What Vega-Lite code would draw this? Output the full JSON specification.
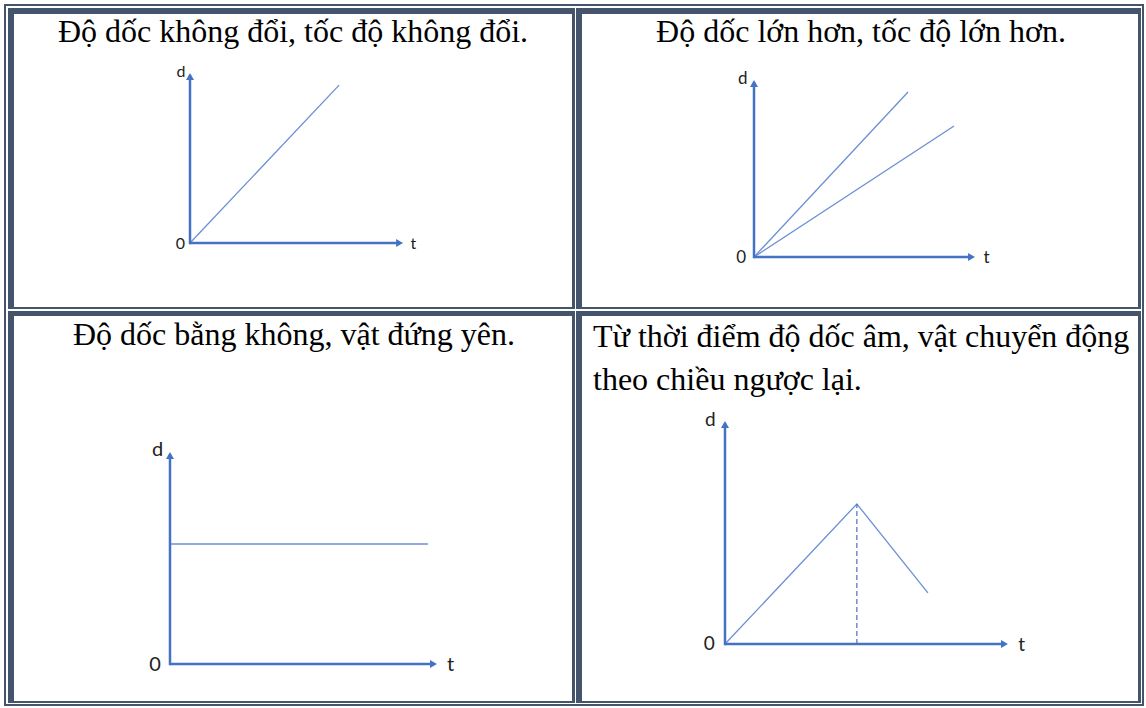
{
  "$schema": "https://vega.github.io/schema/vega-lite/v6.json",
  "background": "white",
  "padding": {"left": 4, "top": 4, "right": 2, "bottom": 2},
  "columns": 2,
  "spacing": 0,
  "bounds": "flush",
  "config": {"view": {"stroke": null}, "axis": {"disable": true}},
  "concat": [
    {
      "width": 571, "height": 305,
      "data": {"values": [{}]},
      "layer": [
        {
          "data": {"values": [{"t": 0, "d": 0, "s": "a"}, {"t": 7.0, "d": 9.29, "s": "a"}]},
          "mark": {"type": "line", "color": "#6A8FD4", "strokeWidth": 1.3},
          "encoding": {
            "x": {"field": "t", "type": "quantitative", "axis": null, "scale": {"domain": [-8.732, 18.075], "nice": false, "zero": false}},
            "y": {"field": "d", "type": "quantitative", "axis": null, "scale": {"domain": [-3.882, 14.059], "nice": false, "zero": false}},
            "detail": {"field": "s"}
          }
        },
        {"mark": {"type": "rule", "clip": true, "strokeWidth": 6, "color": "#44546A"}, "encoding": {"x": {"datum": 18.075}, "y": {"datum": -3.882}, "y2": {"datum": 14.059}}},
        {"mark": {"type": "rule", "clip": true, "strokeWidth": 4, "color": "#44546A"}, "encoding": {"y": {"datum": -3.882}, "x": {"datum": -8.732}, "x2": {"datum": 18.075}}},
        {"mark": {"type": "rule", "clip": true, "strokeWidth": 20, "color": "#44546A"}, "encoding": {"x": {"datum": -8.732}, "y": {"datum": -3.882}, "y2": {"datum": 14.059}}},
        {"mark": {"type": "rule", "clip": true, "strokeWidth": 20, "color": "#44546A"}, "encoding": {"y": {"datum": 14.059}, "x": {"datum": -8.732}, "x2": {"datum": 18.075}}},
        {"mark": {"type": "rule", "clip": true, "strokeWidth": 8, "color": "white"}, "encoding": {"x": {"datum": -8.732}, "y": {"datum": -3.882}, "y2": {"datum": 14.059}}},
        {"mark": {"type": "rule", "clip": true, "strokeWidth": 8, "color": "white"}, "encoding": {"y": {"datum": 14.059}, "x": {"datum": -8.732}, "x2": {"datum": 18.075}}},
        {"mark": {"type": "rule", "clip": true, "strokeWidth": 4, "color": "#44546A"}, "encoding": {"x": {"datum": -8.732}, "y": {"datum": -3.882}, "y2": {"datum": 14.059}}},
        {"mark": {"type": "rule", "clip": true, "strokeWidth": 4, "color": "#44546A"}, "encoding": {"y": {"datum": 14.059}, "x": {"datum": -8.732}, "x2": {"datum": 18.075}}},
        {"mark": {"type": "rule", "strokeWidth": 2.5, "color": "#4472C4"}, "encoding": {"x": {"datum": 0}, "x2": {"datum": 9.84}, "y": {"datum": 0}}},
        {"mark": {"type": "rule", "strokeWidth": 2.5, "color": "#4472C4", "strokeCap": "square"}, "encoding": {"x": {"datum": 0}, "y": {"datum": 0}, "y2": {"datum": 9.79}}},
        {"mark": {"type": "point", "shape": "triangle-right", "filled": true, "size": 64, "color": "#4472C4", "opacity": 1}, "encoding": {"x": {"datum": 9.84}, "y": {"datum": 0}}},
        {"mark": {"type": "point", "shape": "triangle-up", "filled": true, "size": 64, "color": "#4472C4", "opacity": 1}, "encoding": {"x": {"datum": 0}, "y": {"datum": 9.79}}},
        {"mark": {"type": "text", "text": "d", "font": "Lato", "fontSize": 16, "color": "#222222", "align": "center", "baseline": "middle"}, "encoding": {"x": {"datum": -0.423}, "y": {"datum": 10.06}}},
        {"mark": {"type": "text", "text": "0", "font": "Lato", "fontSize": 16, "color": "#222222", "align": "center", "baseline": "middle"}, "encoding": {"x": {"datum": -0.446}, "y": {"datum": -0.06}}},
        {"mark": {"type": "text", "text": "t", "font": "Lato", "fontSize": 16, "color": "#222222", "align": "center", "baseline": "middle"}, "encoding": {"x": {"datum": 10.49}, "y": {"datum": -0.06}}},
        {"mark": {"type": "text", "text": "Độ dốc không đổi, tốc độ không đổi.", "font": "Liberation Serif", "fontSize": 32, "color": "#000000", "align": "center", "baseline": "alphabetic"}, "encoding": {"x": {"datum": 4.836}, "y": {"datum": 11.82}}}
      ]
    },
    {
      "width": 569, "height": 305,
      "data": {"values": [{}]},
      "layer": [
        {
          "data": {"values": [{"t": 0, "d": 0, "s": "steep"}, {"t": 6.97, "d": 9.32, "s": "steep"}, {"t": 0, "d": 0, "s": "gentle"}, {"t": 9.05, "d": 7.40, "s": "gentle"}]},
          "mark": {"type": "line", "color": "#6A8FD4", "strokeWidth": 1.3},
          "encoding": {
            "x": {"field": "t", "type": "quantitative", "axis": null, "scale": {"domain": [-8.1, 17.647], "nice": false, "zero": false}},
            "y": {"field": "d", "type": "quantitative", "axis": null, "scale": {"domain": [-2.938, 14.294], "nice": false, "zero": false}},
            "detail": {"field": "s"}
          }
        },
        {"mark": {"type": "rule", "clip": true, "strokeWidth": 4, "color": "#44546A"}, "encoding": {"y": {"datum": -2.938}, "x": {"datum": -8.1}, "x2": {"datum": 17.647}}},
        {"mark": {"type": "rule", "clip": true, "strokeWidth": 14, "color": "#44546A"}, "encoding": {"x": {"datum": -8.1}, "y": {"datum": -2.938}, "y2": {"datum": 14.294}}},
        {"mark": {"type": "rule", "clip": true, "strokeWidth": 12, "color": "#44546A"}, "encoding": {"x": {"datum": 17.647}, "y": {"datum": -2.938}, "y2": {"datum": 14.294}}},
        {"mark": {"type": "rule", "clip": true, "strokeWidth": 20, "color": "#44546A"}, "encoding": {"y": {"datum": 14.294}, "x": {"datum": -8.1}, "x2": {"datum": 17.647}}},
        {"mark": {"type": "rule", "clip": true, "strokeWidth": 2, "color": "white"}, "encoding": {"x": {"datum": -8.1}, "y": {"datum": -2.938}, "y2": {"datum": 14.294}}},
        {"mark": {"type": "rule", "clip": true, "strokeWidth": 6, "color": "white"}, "encoding": {"x": {"datum": 17.647}, "y": {"datum": -2.938}, "y2": {"datum": 14.294}}},
        {"mark": {"type": "rule", "clip": true, "strokeWidth": 8, "color": "white"}, "encoding": {"y": {"datum": 14.294}, "x": {"datum": -8.1}, "x2": {"datum": 17.647}}},
        {"mark": {"type": "rule", "clip": true, "strokeWidth": 4, "color": "#44546A"}, "encoding": {"x": {"datum": 17.647}, "y": {"datum": -2.938}, "y2": {"datum": 14.294}}},
        {"mark": {"type": "rule", "clip": true, "strokeWidth": 4, "color": "#44546A"}, "encoding": {"y": {"datum": 14.294}, "x": {"datum": -8.1}, "x2": {"datum": 17.647}}},
        {"mark": {"type": "rule", "strokeWidth": 2.5, "color": "#4472C4"}, "encoding": {"x": {"datum": 0}, "x2": {"datum": 9.842}, "y": {"datum": 0}}},
        {"mark": {"type": "rule", "strokeWidth": 2.5, "color": "#4472C4", "strokeCap": "square"}, "encoding": {"x": {"datum": 0}, "y": {"datum": 0}, "y2": {"datum": 9.802}}},
        {"mark": {"type": "point", "shape": "triangle-right", "filled": true, "size": 64, "color": "#4472C4", "opacity": 1}, "encoding": {"x": {"datum": 9.842}, "y": {"datum": 0}}},
        {"mark": {"type": "point", "shape": "triangle-up", "filled": true, "size": 64, "color": "#4472C4", "opacity": 1}, "encoding": {"x": {"datum": 0}, "y": {"datum": 9.802}}},
        {"mark": {"type": "text", "text": "d", "font": "Lato", "fontSize": 17, "color": "#222222", "align": "center", "baseline": "middle"}, "encoding": {"x": {"datum": -0.511}, "y": {"datum": 10.06}}},
        {"mark": {"type": "text", "text": "0", "font": "Lato", "fontSize": 17, "color": "#222222", "align": "center", "baseline": "middle"}, "encoding": {"x": {"datum": -0.579}, "y": {"datum": -0.073}}},
        {"mark": {"type": "text", "text": "t", "font": "Lato", "fontSize": 17, "color": "#222222", "align": "center", "baseline": "middle"}, "encoding": {"x": {"datum": 10.52}, "y": {"datum": -0.073}}},
        {"mark": {"type": "text", "text": "Độ dốc lớn hơn, tốc độ lớn hơn.", "font": "Liberation Serif", "fontSize": 32, "color": "#000000", "align": "center", "baseline": "alphabetic"}, "encoding": {"x": {"datum": 4.842}, "y": {"datum": 12.147}}}
      ]
    },
    {
      "width": 571, "height": 397,
      "data": {"values": [{}]},
      "layer": [
        {
          "data": {"values": [{"t": 0, "d": 5.66, "s": "a"}, {"t": 9.66, "d": 5.66, "s": "a"}]},
          "mark": {"type": "line", "color": "#6A8FD4", "strokeWidth": 1.3},
          "encoding": {
            "x": {"field": "t", "type": "quantitative", "axis": null, "scale": {"domain": [-6.217, 15.169], "nice": false, "zero": false}},
            "y": {"field": "d", "type": "quantitative", "axis": null, "scale": {"domain": [-1.981, 16.745], "nice": false, "zero": false}},
            "detail": {"field": "s"}
          }
        },
        {"mark": {"type": "rule", "clip": true, "strokeWidth": 6, "color": "#44546A"}, "encoding": {"x": {"datum": 15.169}, "y": {"datum": -1.981}, "y2": {"datum": 16.745}}},
        {"mark": {"type": "rule", "clip": true, "strokeWidth": 14, "color": "#44546A"}, "encoding": {"y": {"datum": 16.745}, "x": {"datum": -6.217}, "x2": {"datum": 15.169}}},
        {"mark": {"type": "rule", "clip": true, "strokeWidth": 20, "color": "#44546A"}, "encoding": {"x": {"datum": -6.217}, "y": {"datum": -1.981}, "y2": {"datum": 16.745}}},
        {"mark": {"type": "rule", "clip": true, "strokeWidth": 10, "color": "#44546A"}, "encoding": {"y": {"datum": -1.981}, "x": {"datum": -6.217}, "x2": {"datum": 15.169}}},
        {"mark": {"type": "rule", "clip": true, "strokeWidth": 4, "color": "white"}, "encoding": {"y": {"datum": 16.745}, "x": {"datum": -6.217}, "x2": {"datum": 15.169}}},
        {"mark": {"type": "rule", "clip": true, "strokeWidth": 8, "color": "white"}, "encoding": {"x": {"datum": -6.217}, "y": {"datum": -1.981}, "y2": {"datum": 16.745}}},
        {"mark": {"type": "rule", "clip": true, "strokeWidth": 6, "color": "white"}, "encoding": {"y": {"datum": -1.981}, "x": {"datum": -6.217}, "x2": {"datum": 15.169}}},
        {"mark": {"type": "rule", "clip": true, "strokeWidth": 4, "color": "#44546A"}, "encoding": {"x": {"datum": -6.217}, "y": {"datum": -1.981}, "y2": {"datum": 16.745}}},
        {"mark": {"type": "rule", "clip": true, "strokeWidth": 4, "color": "#44546A"}, "encoding": {"y": {"datum": -1.981}, "x": {"datum": -6.217}, "x2": {"datum": 15.169}}},
        {"mark": {"type": "rule", "strokeWidth": 2.5, "color": "#4472C4"}, "encoding": {"x": {"datum": 0}, "x2": {"datum": 9.869}, "y": {"datum": 0}}},
        {"mark": {"type": "rule", "strokeWidth": 2.5, "color": "#4472C4", "strokeCap": "square"}, "encoding": {"x": {"datum": 0}, "y": {"datum": 0}, "y2": {"datum": 9.835}}},
        {"mark": {"type": "point", "shape": "triangle-right", "filled": true, "size": 64, "color": "#4472C4", "opacity": 1}, "encoding": {"x": {"datum": 9.869}, "y": {"datum": 0}}},
        {"mark": {"type": "point", "shape": "triangle-up", "filled": true, "size": 64, "color": "#4472C4", "opacity": 1}, "encoding": {"x": {"datum": 0}, "y": {"datum": 9.835}}},
        {"mark": {"type": "text", "text": "d", "font": "Lato", "fontSize": 20, "color": "#222222", "align": "center", "baseline": "middle"}, "encoding": {"x": {"datum": -0.468}, "y": {"datum": 10.08}}},
        {"mark": {"type": "text", "text": "0", "font": "Lato", "fontSize": 20, "color": "#222222", "align": "center", "baseline": "middle"}, "encoding": {"x": {"datum": -0.562}, "y": {"datum": -0.03}}},
        {"mark": {"type": "text", "text": "t", "font": "Lato", "fontSize": 20, "color": "#222222", "align": "center", "baseline": "middle"}, "encoding": {"x": {"datum": 10.51}, "y": {"datum": -0.03}}},
        {"mark": {"type": "text", "text": "Độ dốc bằng không, vật đứng yên.", "font": "Liberation Serif", "fontSize": 32, "color": "#000000", "align": "center", "baseline": "alphabetic"}, "encoding": {"x": {"datum": 4.644}, "y": {"datum": 15.047}}}
      ]
    },
    {
      "width": 569, "height": 397,
      "data": {"values": [{}]},
      "layer": [
        {
          "data": {"values": [{"t": 0, "d": 0, "s": "a"}, {"t": 4.66, "d": 6.28, "s": "a"}, {"t": 7.17, "d": 2.29, "s": "a"}]},
          "mark": {"type": "line", "color": "#6A8FD4", "strokeWidth": 1.3},
          "encoding": {
            "x": {"field": "t", "type": "quantitative", "axis": null, "scale": {"domain": [-5.3, 14.806], "nice": false, "zero": false}},
            "y": {"field": "d", "type": "quantitative", "axis": null, "scale": {"domain": [-2.78, 15.022], "nice": false, "zero": false}},
            "detail": {"field": "s"}
          }
        },
        {"mark": {"type": "rule", "clip": true, "strokeWidth": 14, "color": "#44546A"}, "encoding": {"x": {"datum": -5.3}, "y": {"datum": -2.78}, "y2": {"datum": 15.022}}},
        {"mark": {"type": "rule", "clip": true, "strokeWidth": 14, "color": "#44546A"}, "encoding": {"y": {"datum": 15.022}, "x": {"datum": -5.3}, "x2": {"datum": 14.806}}},
        {"mark": {"type": "rule", "clip": true, "strokeWidth": 12, "color": "#44546A"}, "encoding": {"x": {"datum": 14.806}, "y": {"datum": -2.78}, "y2": {"datum": 15.022}}},
        {"mark": {"type": "rule", "clip": true, "strokeWidth": 10, "color": "#44546A"}, "encoding": {"y": {"datum": -2.78}, "x": {"datum": -5.3}, "x2": {"datum": 14.806}}},
        {"mark": {"type": "rule", "clip": true, "strokeWidth": 2, "color": "white"}, "encoding": {"x": {"datum": -5.3}, "y": {"datum": -2.78}, "y2": {"datum": 15.022}}},
        {"mark": {"type": "rule", "clip": true, "strokeWidth": 4, "color": "white"}, "encoding": {"y": {"datum": 15.022}, "x": {"datum": -5.3}, "x2": {"datum": 14.806}}},
        {"mark": {"type": "rule", "clip": true, "strokeWidth": 6, "color": "white"}, "encoding": {"x": {"datum": 14.806}, "y": {"datum": -2.78}, "y2": {"datum": 15.022}}},
        {"mark": {"type": "rule", "clip": true, "strokeWidth": 6, "color": "white"}, "encoding": {"y": {"datum": -2.78}, "x": {"datum": -5.3}, "x2": {"datum": 14.806}}},
        {"mark": {"type": "rule", "clip": true, "strokeWidth": 4, "color": "#44546A"}, "encoding": {"x": {"datum": 14.806}, "y": {"datum": -2.78}, "y2": {"datum": 15.022}}},
        {"mark": {"type": "rule", "clip": true, "strokeWidth": 4, "color": "#44546A"}, "encoding": {"y": {"datum": -2.78}, "x": {"datum": -5.3}, "x2": {"datum": 14.806}}},
        {"mark": {"type": "rule", "strokeWidth": 1.2, "color": "#4472C4", "strokeDash": [5, 3]}, "encoding": {"x": {"datum": 4.66}, "y": {"datum": 0}, "y2": {"datum": 6.28}}},
        {"mark": {"type": "rule", "strokeWidth": 2.5, "color": "#4472C4"}, "encoding": {"x": {"datum": 0}, "x2": {"datum": 9.876}, "y": {"datum": 0}}},
        {"mark": {"type": "rule", "strokeWidth": 2.5, "color": "#4472C4", "strokeCap": "square"}, "encoding": {"x": {"datum": 0}, "y": {"datum": 0}, "y2": {"datum": 9.843}}},
        {"mark": {"type": "point", "shape": "triangle-right", "filled": true, "size": 64, "color": "#4472C4", "opacity": 1}, "encoding": {"x": {"datum": 9.876}, "y": {"datum": 0}}},
        {"mark": {"type": "point", "shape": "triangle-up", "filled": true, "size": 64, "color": "#4472C4", "opacity": 1}, "encoding": {"x": {"datum": 0}, "y": {"datum": 9.843}}},
        {"mark": {"type": "text", "text": "d", "font": "Lato", "fontSize": 19, "color": "#222222", "align": "center", "baseline": "middle"}, "encoding": {"x": {"datum": -0.519}, "y": {"datum": 10.04}}},
        {"mark": {"type": "text", "text": "0", "font": "Lato", "fontSize": 19, "color": "#222222", "align": "center", "baseline": "middle"}, "encoding": {"x": {"datum": -0.555}, "y": {"datum": -0.022}}},
        {"mark": {"type": "text", "text": "t", "font": "Lato", "fontSize": 19, "color": "#222222", "align": "center", "baseline": "middle"}, "encoding": {"x": {"datum": 10.48}, "y": {"datum": -0.045}}},
        {"mark": {"type": "text", "text": ["Từ thời điểm độ dốc âm, vật chuyển động", "theo chiều ngược lại."], "font": "Liberation Serif", "fontSize": 32, "lineHeight": 43, "color": "#000000", "align": "left", "baseline": "alphabetic"}, "encoding": {"x": {"datum": -4.664}, "y": {"datum": 13.318}}}
      ]
    }
  ]
}
